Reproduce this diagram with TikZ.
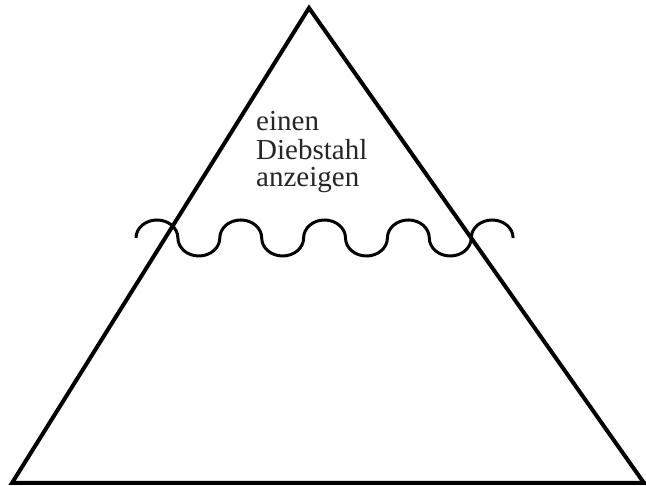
\documentclass[tikz,border=0pt]{standalone}
\usepackage{fontspec}
\setmainfont{Liberation Serif}
\begin{document}
\begin{tikzpicture}[x=1pt,y=1pt,
  edge/.style={line width=4pt, line join=miter},
  wave/.style={line width=3pt},
  lbl/.style={anchor=base west, inner sep=0pt, font=\fontsize{29}{27}\selectfont, text=black!85}]
\useasboundingbox (0,0) rectangle (646,486);
\coordinate (L) at (12,3);
\coordinate (T) at (309,478);
\coordinate (R) at (644,3);
\draw[edge] (L) -- (T) -- (R) -- cycle;
\draw[edge] (R) -- (646,3);
\coordinate (W) at (136,248);
\draw[wave] (W)
  arc[start angle=180,end angle=0,x radius=20.95,y radius=18]
  arc[start angle=180,end angle=360,x radius=20.95,y radius=18]
  arc[start angle=180,end angle=0,x radius=20.95,y radius=18]
  arc[start angle=180,end angle=360,x radius=20.95,y radius=18]
  arc[start angle=180,end angle=0,x radius=20.95,y radius=18]
  arc[start angle=180,end angle=360,x radius=20.95,y radius=18]
  arc[start angle=180,end angle=0,x radius=20.95,y radius=18]
  arc[start angle=180,end angle=360,x radius=20.95,y radius=18]
  arc[start angle=180,end angle=0,x radius=20.95,y radius=18];
\node[lbl] (l1) at (256,355) {einen};
\node[lbl] (l2) at (256,326) {Diebstahl};
\node[lbl] (l3) at (256,299) {anzeigen};
\end{tikzpicture}
\end{document}
